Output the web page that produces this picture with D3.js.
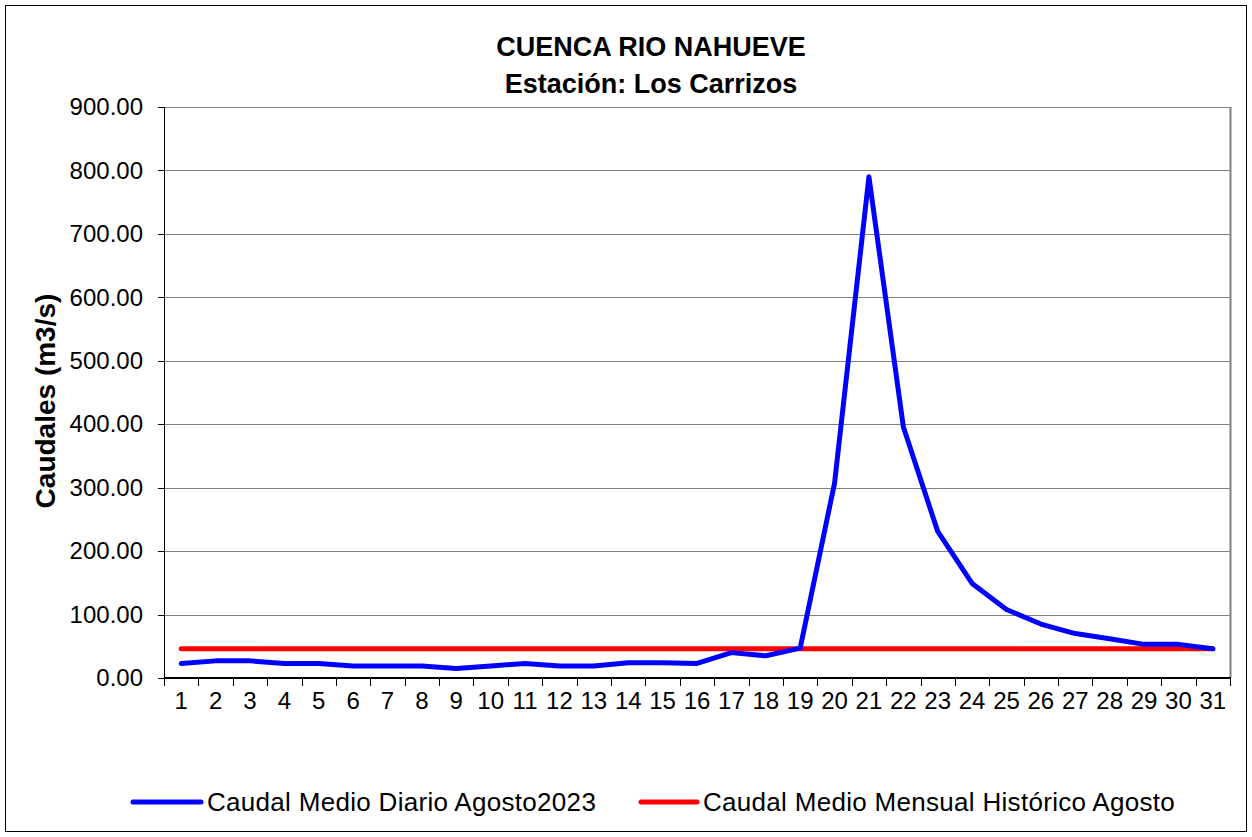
<!DOCTYPE html>
<meta charset="utf-8">
<style>
    body { margin: 0; background: #fff; }
    svg { font-family: "Liberation Sans", Arial, sans-serif; }
    .axis path, .axis line { stroke: #000; shape-rendering: crispEdges; }
    .grid line { stroke: #808080; shape-rendering: crispEdges; }
</style>
<body>
<script src="https://d3js.org/d3.v7.min.js"></script>
<script>
    // dias del mes
    const days = d3.range(1, 32).map(String);

    // caudal medio diario agosto 2023 (m3/s)
    const dailyFlow = [23, 27, 27, 23, 23, 19, 19, 19, 15, 19, 23, 19, 19, 24, 24, 23,
        40, 35, 47, 307, 790, 396, 231, 149, 108, 85, 70, 62, 53, 53, 46];

    // caudal medio mensual historico agosto
    const historicFlow = days.map(() => 46);

    const yTicks = [0, 100, 200, 300, 400, 500, 600, 700, 800, 900];

    const seriesNames = ["Caudal Medio Diario Agosto2023", "Caudal Medio Mensual Histórico Agosto"];
    const seriesColors = ["#0000ff", "#ff0000"];

    const W = 1252, H = 837;
    const plot = {left: 164, top: 107, right: 1230, bottom: 678};

    const svg = d3.select("body").append("svg")
        .attr("width", W)
        .attr("height", H);

    // chart frame
    svg.append("rect")
        .attr("x", 5.5).attr("y", 5.5)
        .attr("width", W - 11).attr("height", H - 11)
        .attr("fill", "#fff")
        .attr("stroke", "#000")
        .attr("stroke-width", 1);

    const x = d3.scaleBand()
        .domain(days)
        .range([plot.left, plot.right]);

    const y = d3.scaleLinear()
        .domain([0, 900])
        .range([plot.bottom, plot.top]);

    // gridlines
    svg.append("g")
        .attr("class", "grid")
        .selectAll("line")
        .data(yTicks.filter(d => d > 0))
        .join("line")
        .attr("x1", plot.left).attr("x2", plot.right)
        .attr("y1", d => Math.round(y(d)) + 0.5).attr("y2", d => Math.round(y(d)) + 0.5);

    // right border of plot area
    svg.append("line")
        .attr("x1", plot.right + 0.5).attr("x2", plot.right + 0.5)
        .attr("y1", plot.top).attr("y2", plot.bottom)
        .attr("stroke", "#808080")
        .attr("stroke-width", 2);

    // y axis
    const gY = svg.append("g")
        .attr("class", "axis")
        .attr("transform", `translate(${plot.left},0)`)
        .call(d3.axisLeft(y).tickValues(yTicks).tickFormat(d3.format(".2f")).tickSize(6).tickPadding(15));
    gY.select(".domain").attr("stroke-width", 1.5);
    gY.selectAll("text")
        .attr("font-size", 24)
        .attr("fill", "#000")
        .attr("font-family", "Liberation Sans, Arial, sans-serif");

    // x axis: ticks between categories
    const gX = svg.append("g")
        .attr("class", "axis")
        .attr("transform", `translate(0,${plot.bottom})`)
        .call(d3.axisBottom(x).tickSize(0).tickPadding(14));
    gX.select(".domain").attr("d", `M${plot.left},0H${plot.right + 1}`).attr("stroke-width", 1.5);
    gX.selectAll("text")
        .attr("font-size", 24)
        .attr("fill", "#000")
        .attr("font-family", "Liberation Sans, Arial, sans-serif");
    gX.selectAll(".sep")
        .data(d3.range(days.length + 1))
        .join("line")
        .attr("class", "sep")
        .attr("x1", i => Math.round(plot.left + i * x.step()) + 0.5)
        .attr("x2", i => Math.round(plot.left + i * x.step()) + 0.5)
        .attr("y1", 0).attr("y2", 8)
        .attr("stroke", "#000");

    const line = d3.line()
        .x((d, i) => x(days[i]) + x.bandwidth() / 2)
        .y(d => y(d));

    [historicFlow, dailyFlow].forEach((vals, k) => {
        svg.append("path")
            .datum(vals)
            .attr("d", line)
            .attr("fill", "none")
            .attr("stroke", seriesColors[1 - k])
            .attr("stroke-width", 5)
            .attr("stroke-linejoin", "round")
            .attr("stroke-linecap", "round");
    });

    // titles
    const title = svg.append("g")
        .attr("font-weight", "bold")
        .attr("font-size", 27)
        .attr("text-anchor", "middle");
    title.append("text").attr("x", 651).attr("y", 56).text("CUENCA RIO NAHUEVE");
    title.append("text").attr("x", 651).attr("y", 93).text("Estación: Los Carrizos");

    svg.append("text")
        .attr("transform", "translate(55,401) rotate(-90)")
        .attr("text-anchor", "middle")
        .attr("font-weight", "bold")
        .attr("font-size", 28)
        .text("Caudales (m3/s)");

    // legend
    const legendX = [131, 639];
    const legend = svg.append("g")
        .selectAll("g")
        .data(seriesNames)
        .join("g")
        .attr("transform", (d, i) => `translate(${legendX[i]},802)`);
    legend.append("line")
        .attr("x1", 2)
        .attr("x2", (d, i) => i === 0 ? 70 : 58)
        .attr("stroke", (d, i) => seriesColors[i])
        .attr("stroke-width", 5)
        .attr("stroke-linecap", "round");
    legend.append("text")
        .attr("x", (d, i) => i === 0 ? 76 : 64)
        .attr("dy", "0.35em")
        .attr("font-size", 26)
        .attr("letter-spacing", 0.3)
        .text(d => d);
</script>
